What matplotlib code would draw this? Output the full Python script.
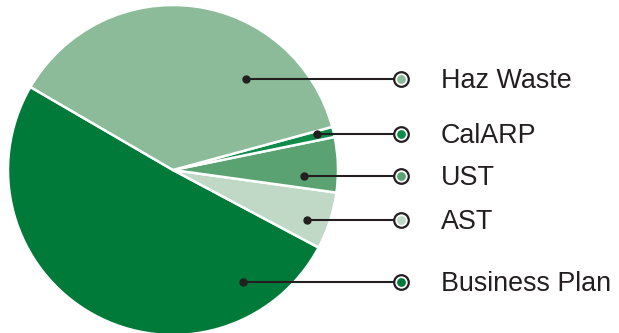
import matplotlib.pyplot as plt
import numpy as np

plt.rcParams['font.family'] = ['Liberation Sans', 'DejaVu Sans']

# share of each program (percent)
labels = ['Business Plan', 'AST', 'UST', 'CalARP', 'Haz Waste']
shares = [50.6, 5.6, 5.4, 1.0, 37.4]
colors = ['#007a38', '#c0d9c7', '#5ba272', '#0f8b4a', '#8bbb98']

# legend rows, top to bottom
legend_order = ['Haz Waste', 'CalARP', 'UST', 'AST', 'Business Plan']

W, H = 619, 333
fig = plt.figure(figsize=(W / 100, H / 100), dpi=100)
ax = fig.add_axes([0, 0, 1, 1])

# pixel-based layout
cx, cy, R = 173, H - 170, 165
ax.pie(shares, colors=colors, startangle=149.8, counterclock=True,
       center=(cx, cy), radius=R,
       wedgeprops=dict(edgecolor='white', linewidth=1.8))
ax.set_xlim(0, W)
ax.set_ylim(0, H)
ax.set_aspect('equal')
ax.axis('off')

row_y = [79, 134, 176, 220, 282]     # from top, px
dot_x = [246, 317, 304, 307, 243]
circle_x = 401
text_x = 441
ink = '#231f20'

for name, ypx, dx in zip(legend_order, row_y, dot_x):
    y = H - ypx
    col = colors[labels.index(name)]
    ax.plot([dx, circle_x], [y, y], color=ink, lw=1.5, solid_capstyle='butt', zorder=3)
    ax.plot(dx, y, 'o', color=ink, ms=5, zorder=4)
    # ringed end marker: dark outline, white gap, coloured core
    ax.plot(circle_x, y, 'o', mfc='white', mec=ink, mew=1.6, ms=10.5, zorder=5)
    ax.plot(circle_x, y, 'o', mfc=col, mec='none', ms=6.3, zorder=6)
    ax.text(text_x, y - 9, name, fontsize=19.4, color=ink, va='baseline', ha='left')

fig.savefig('out.png', dpi=100)
